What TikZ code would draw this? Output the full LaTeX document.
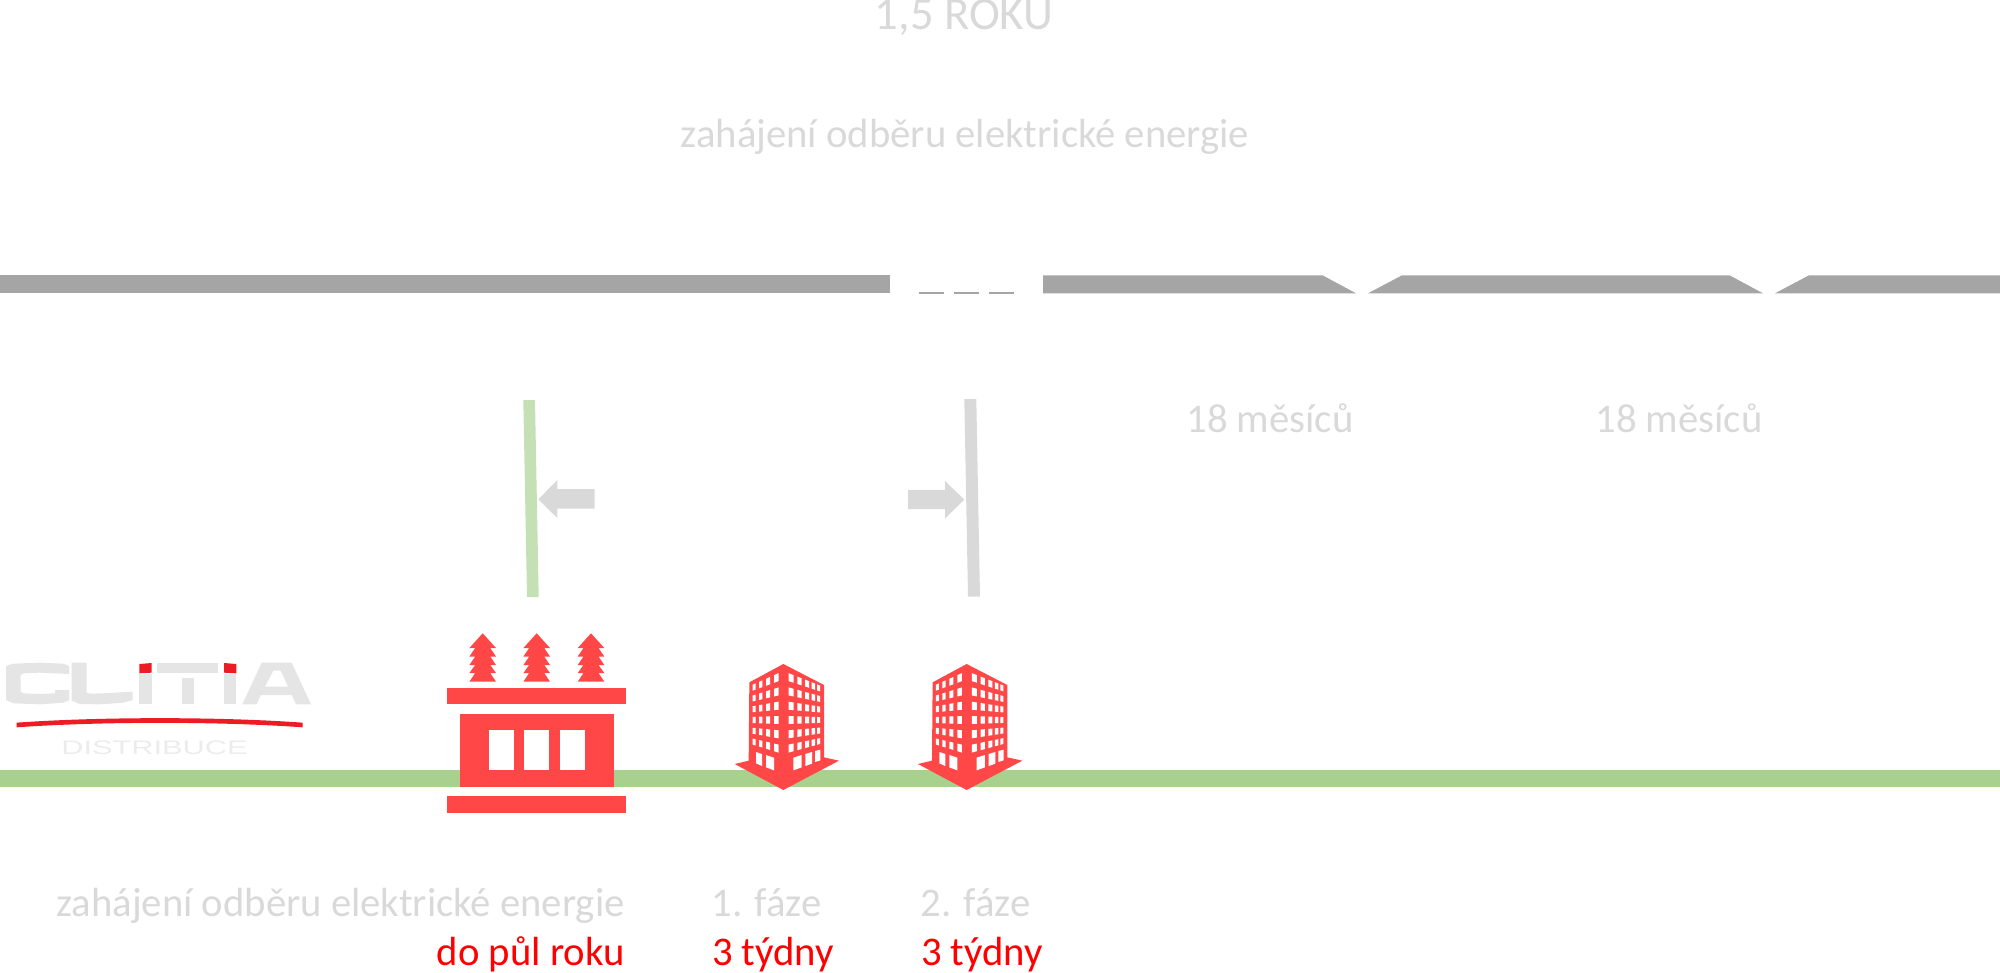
\documentclass[tikz,border=0pt]{standalone}
\usepackage{fontspec}
\setmainfont{Carlito}
\newfontfamily\logofont{Liberation Sans}
\definecolor{rd}{HTML}{FF4747}
\definecolor{grn}{HTML}{A9D18E}
\definecolor{lgrn}{HTML}{C5E0B4}
\definecolor{lg}{HTML}{D9D9D9}
\definecolor{bargray}{HTML}{A5A5A5}
\definecolor{logog}{HTML}{E5E5E5}
\definecolor{logot}{HTML}{ECECEC}
\definecolor{logor}{HTML}{ED1C24}
\tikzset{
 txt/.style={text=lg,inner sep=0pt,font=\fontsize{20.35}{24}\selectfont},
 rtxt/.style={text=red,inner sep=0pt,font=\fontsize{20.35}{24}\selectfont},
 insul/.pic={\fill[rd] (0,633.3)--(13.3,648)--(7.5,648)--(13.3,656.5)--(7.5,656.5)--(13.3,665)--(7.5,665)--(13.3,673)--(7.5,673)--(13.3,681.7)--(-13.3,681.7)--(-7.5,673)--(-13.3,673)--(-7.5,665)--(-13.3,665)--(-7.5,656.5)--(-13.3,656.5)--(-7.5,648)--(-13.3,648)--cycle;}
}
\newcommand{\bldg}[1]{%
\begin{scope}[shift={(#1,640)},x=0.16667pt,y=-0.16667pt]
\fill[rd] (250,72)--(372,135)--(372,352)--(417,362)--(250,450)--(104,372)--(146,362)--(148,127)--cycle;
\foreach \xa/\xb in {158/167,177/187,198/210,222/236}{
 \pgfmathsetmacro\sa{33+(\xa-163)*0.136}
 \pgfmathsetmacro\sb{33+(\xb-163)*0.136}
 \foreach \r in {-3,...,2}{
  \fill[white] (\xa,{240+\sa*(\r-.28)})--(\xb,{240+\sb*(\r-.28)})--(\xb,{240+\sb*(\r+.28)})--(\xa,{240+\sa*(\r+.28)})--cycle;
 }}
\foreach \xa/\xb in {266/281,292/305,315/327,335/345,351/360}{
 \pgfmathsetmacro\sa{42-(\xa-273)*0.12}
 \pgfmathsetmacro\sb{42-(\xb-273)*0.12}
 \foreach \r in {-3,...,2}{
  \fill[white] (\xa,{240+\sa*(\r-.28)})--(\xb,{240+\sb*(\r-.28)})--(\xb,{240+\sb*(\r+.28)})--(\xa,{240+\sa*(\r+.28)})--cycle;
 }}
\fill[white] (168,336)--(186,342)--(186,378)--(168,370)--cycle;
\fill[white] (198,345)--(222,353)--(222,391)--(198,382)--cycle;
\fill[white] (280,353)--(305,345)--(305,382)--(280,391)--cycle;
\fill[white] (316,342)--(336,336)--(336,371)--(316,378)--cycle;
\fill[white] (345,333)--(361,329)--(361,361)--(345,366)--cycle;
\end{scope}}
\begin{document}
\begin{tikzpicture}[x=0.5pt,y=-0.5pt]
\useasboundingbox (0,0) rectangle (2000,973);
\clip (0,0) rectangle (2000,973);
% top timeline
\fill[bargray] (0,275.3) rectangle (889.5,293.3);
\foreach \a in {919,954,989}{\fill[bargray] (\a,292) rectangle ++(25,1.5);}
\fill[bargray] (1043,275.3)--(1322.5,275.3)--(1356,293.3)--(1043,293.3)--cycle;
\fill[bargray] (1368,293.3)--(1402,275.3)--(1729.5,275.3)--(1763,293.3)--(1368,293.3)--cycle;
\fill[bargray] (1775,293.3)--(1809,275.3)--(2000,275.3)--(2000,293.3)--cycle;
% texts top
\node[txt,anchor=base,font=\fontsize{23.3}{28}\selectfont] (t15) at (964,30) {1,5 ROKU};
\node[txt,anchor=base] (ttop) at (965,147.5) {zahájení odběru elektrické energie};
\node[txt,anchor=base] (m1) at (1270,432) {18 měsíců};
\node[txt,anchor=base] (m2) at (1679,432) {18 měsíců};
% markers
\fill[lgrn] (523.3,400)--(535,400)--(538.7,597)--(527,597)--cycle;
\fill[lg] (964.3,399)--(976.3,399)--(980,596.7)--(968,596.7)--cycle;
\fill[lg] (538.3,499.3)--(557.3,480)--(557.3,489)--(594.7,489)--(594.7,508.7)--(557.3,508.7)--(557.3,518)--cycle;
\fill[lg] (964.3,499.6)--(945,481)--(945,490)--(908,490)--(908,509)--(945,509)--(945,518.5)--cycle;
% green line
\fill[grn] (0,770) rectangle (2000,787);
% transformer
\fill[rd] (447.3,688.3) rectangle (626,704.3);
\fill[rd] (447.3,796.3) rectangle (626,812.7);
\fill[rd] (460,713.7) rectangle (613.7,787);
\fill[white] (489.3,730) rectangle (513.7,770);
\fill[white] (524.3,730) rectangle (549.3,770);
\fill[white] (560,730) rectangle (584.7,770);
\path (482.7,0) pic {insul};
\path (536.7,0) pic {insul};
\path (591,0) pic {insul};
% buildings
\bldg{700}
\bldg{883.3}
% logo
\begin{scope}[shift={(0,650)},x=0.16667pt,y=-0.16667pt]
\fill[logog] (18,48)--(40,41)--(120,38)--(190,41)--(207,48)--(207,72)--(165,70)--(120,68)--(70,70)--(62,75)--(62,125)--(70,130)--(120,132)--(165,130)--(165,120)--(208,120)--(208,150)--(190,158)--(120,163)--(40,160)--(18,150)--cycle;
\fill[logog] (215,38)--(260,38)--(260,128)--(270,131)--(310,130)--(398,125)--(398,150)--(370,158)--(300,163)--(240,162)--(215,152)--cycle;
\fill[logog] (418,72) rectangle (455,163);
\fill[logor] (418,42)--(455,39)--(455,68)--(418,70)--cycle;
\fill[logog] (470,40)--(655,40)--(655,68)--(470,68)--cycle;
\fill[logog] (545,84) rectangle (582,163);
\fill[logog] (672,72) rectangle (709,163);
\fill[logor] (672,39)--(709,42)--(709,70)--(672,68)--cycle;
\fill[logog,even odd rule] (727,163)--(785,38)--(875,38)--(933,163)--(888,163)--(875,135)--(782,135)--(770,163)--cycle (795,110)--(864,110)--(842,62)--(820,62)--cycle;
\fill[logor] (50,218) .. controls (300,200) and (660,200) .. (908,218)--(908,232) .. controls (660,214) and (300,214) .. (50,232)--cycle;
\end{scope}
\node[anchor=base,inner sep=0pt,text=logot,xscale=1.57,font=\logofont\fontsize{9.8}{11}\selectfont] (dist) at (154.5,754) {DISTRIBUCE};
% bottom texts
\node[txt,anchor=base east] (zb) at (625,916) {zahájení odběru elektrické energie};
\node[rtxt,anchor=base east] (db) at (625,965) {do půl roku};
\node[txt,anchor=base] (f1) at (766.5,916) {1. fáze};
\node[rtxt,anchor=base] (t1) at (773,965) {3 týdny};
\node[txt,anchor=base] (f2) at (975.5,916) {2. fáze};
\node[rtxt,anchor=base] (t2) at (982,965) {3 týdny};
\end{tikzpicture}
\end{document}
